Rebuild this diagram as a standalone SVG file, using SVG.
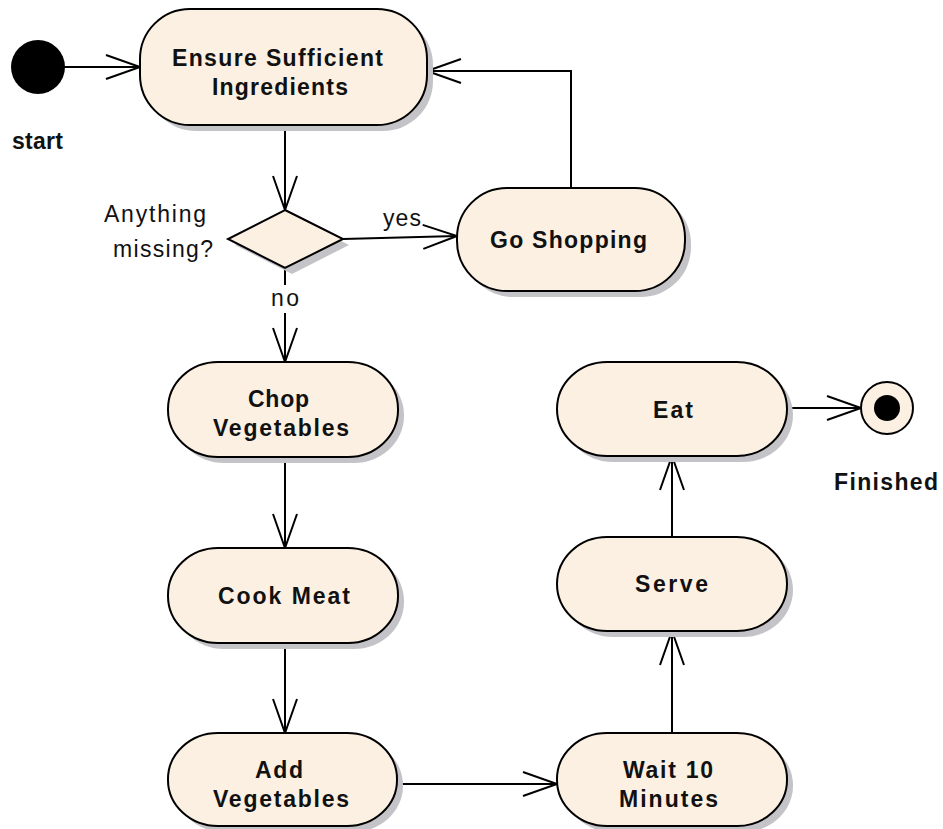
<svg xmlns="http://www.w3.org/2000/svg" width="943" height="829" viewBox="0 0 943 829">
  <style>
    .act { fill: #fbf0e2; stroke: #000; stroke-width: 2; }
    .shadow { fill: #c4c4c8; }
    .edge { fill: none; stroke: #000; stroke-width: 2; }
    .lbl { font-family: "Liberation Sans", Arial, sans-serif; font-size: 23px; fill: #111; }
    .b { font-weight: bold; }
  </style>
  <defs>
    <marker id="open" markerUnits="userSpaceOnUse" viewBox="0 0 40 28" markerWidth="40" markerHeight="28" refX="37" refY="14" orient="auto">
      <path d="M3,2 L37,14 L3,26" fill="none" stroke="#000" stroke-width="2"/>
    </marker>
  </defs>

  <rect width="943" height="829" fill="#fff"/>

  <!-- connectors -->
  <g id="connectors">
    <path class="edge" d="M64,67 L140,67" marker-end="url(#open)"/>
    <path class="edge" d="M285,125 L285,210" marker-end="url(#open)"/>
    <path class="edge" d="M343,239 L457,236" marker-end="url(#open)"/>
    <path class="edge" d="M571,188 L571,71 L427,71" marker-end="url(#open)"/>
    <path class="edge" d="M285,268 L285,285"/>
    <path class="edge" d="M285,313 L285,362" marker-end="url(#open)"/>
    <path class="edge" d="M285,457 L285,548" marker-end="url(#open)"/>
    <path class="edge" d="M285,643 L285,733" marker-end="url(#open)"/>
    <path class="edge" d="M397,784 L557,784" marker-end="url(#open)"/>
    <path class="edge" d="M672,733 L672,631" marker-end="url(#open)"/>
    <path class="edge" d="M672,537 L672,456" marker-end="url(#open)"/>
    <path class="edge" d="M787,408 L861,408" marker-end="url(#open)"/>
    <text class="lbl" x="383" y="226" textLength="38" lengthAdjust="spacing">yes</text>
    <text class="lbl" x="271" y="306" textLength="28" lengthAdjust="spacing">no</text>
  </g>

  <!-- initial node -->
  <g id="start">
    <circle cx="38" cy="67" r="27" fill="#000"/>
    <text class="lbl b" x="12" y="149" textLength="51" lengthAdjust="spacing">start</text>
  </g>

  <g id="ensure">
    <rect class="shadow" x="146" y="15" width="287" height="116" rx="50" ry="50"/>
    <rect class="act" x="140" y="9" width="287" height="116" rx="50" ry="50"/>
    <text class="lbl b" x="172" y="66" textLength="211" lengthAdjust="spacing">Ensure Sufficient</text>
    <text class="lbl b" x="212" y="95" textLength="136" lengthAdjust="spacing">Ingredients</text>
  </g>

  <g id="decision">
    <polygon class="shadow" points="292,216 349,245 292,274 235,245"/>
    <polygon class="act" points="285,210 343,239 285,268 228,239"/>
    <text class="lbl" x="104" y="222" textLength="102" lengthAdjust="spacing">Anything</text>
    <text class="lbl" x="113" y="257" textLength="100" lengthAdjust="spacing">missing?</text>
  </g>

  <g id="shopping">
    <rect class="shadow" x="463" y="194" width="228" height="103" rx="50" ry="50"/>
    <rect class="act" x="457" y="188" width="228" height="103" rx="50" ry="50"/>
    <text class="lbl b" x="490" y="248" textLength="157" lengthAdjust="spacing">Go Shopping</text>
  </g>

  <g id="chop">
    <rect class="shadow" x="174" y="368" width="230" height="95" rx="50" ry="47"/>
    <rect class="act" x="168" y="362" width="230" height="95" rx="50" ry="47"/>
    <text class="lbl b" x="248" y="407" textLength="61" lengthAdjust="spacing">Chop</text>
    <text class="lbl b" x="213" y="436" textLength="136" lengthAdjust="spacing">Vegetables</text>
  </g>

  <g id="cook">
    <rect class="shadow" x="174" y="554" width="230" height="95" rx="50" ry="47"/>
    <rect class="act" x="168" y="548" width="230" height="95" rx="50" ry="47"/>
    <text class="lbl b" x="218" y="604" textLength="132" lengthAdjust="spacing">Cook Meat</text>
  </g>

  <g id="add">
    <rect class="shadow" x="174" y="739" width="229" height="93" rx="50" ry="46"/>
    <rect class="act" x="168" y="733" width="229" height="93" rx="50" ry="46"/>
    <text class="lbl b" x="255" y="778" textLength="48" lengthAdjust="spacing">Add</text>
    <text class="lbl b" x="213" y="807" textLength="136" lengthAdjust="spacing">Vegetables</text>
  </g>

  <g id="wait">
    <rect class="shadow" x="563" y="739" width="230" height="93" rx="50" ry="46"/>
    <rect class="act" x="557" y="733" width="230" height="93" rx="50" ry="46"/>
    <text class="lbl b" x="623" y="778" textLength="90" lengthAdjust="spacing">Wait 10</text>
    <text class="lbl b" x="619" y="807" textLength="99" lengthAdjust="spacing">Minutes</text>
  </g>

  <g id="serve">
    <rect class="shadow" x="563" y="543" width="230" height="94" rx="50" ry="47"/>
    <rect class="act" x="557" y="537" width="230" height="94" rx="50" ry="47"/>
    <text class="lbl b" x="635" y="592" textLength="73" lengthAdjust="spacing">Serve</text>
  </g>

  <g id="eat">
    <rect class="shadow" x="563" y="368" width="230" height="94" rx="50" ry="47"/>
    <rect class="act" x="557" y="362" width="230" height="94" rx="50" ry="47"/>
    <text class="lbl b" x="653" y="418" textLength="40" lengthAdjust="spacing">Eat</text>
  </g>

  <!-- final node -->
  <g id="finished">
    <circle cx="887" cy="408" r="26" fill="#fbf0e2" stroke="#000" stroke-width="2"/>
    <circle cx="887" cy="408" r="13" fill="#000"/>
    <text class="lbl b" x="834" y="490" textLength="104" lengthAdjust="spacing">Finished</text>
  </g>
</svg>
